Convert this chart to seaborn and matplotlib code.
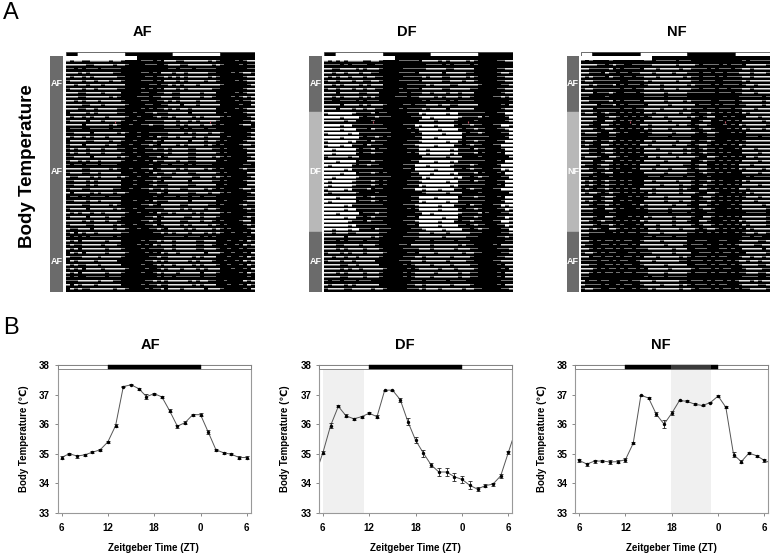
import numpy as np
import pandas as pd
import seaborn as sns
import matplotlib
matplotlib.use('Agg')
import matplotlib.pyplot as plt

W, H = 775, 557

# ---- actogram data: height of the white gap per bin (0-3)
af_first = [2,2,2,2,1,2,2,2,2,2,2,2,2,2,1, 0,0,0,0,1, 1,1,0,1,1,2, 2,2,1,2,2,2,2,2,2,2,2,2,1, 0,0,0,0,1,0,1, 2,2]
af_mid = [1,2,2,2,2,1,2,2,2,2,2,2,2,2,1, 0,0,1,0,0, 1,1,2,1,1,2, 2,2,2,2,2,1,2,2,2,2,2,2,1, 0,1,0,0,0,0,1, 2,2]
af_last = [2,1,2,1,2,2,2,2,2,2,2,2,2,2,1, 0,0,0,0,1, 0,1,1,2,1,2, 2,2,2,2,2,2,2,2,1,2,2,2,1, 0,0,1,0,0,1,0, 2,1]

df_first = [2,2,2,1,2,2,2,2,2,2,1,2,2,2,1, 0,0,0,0,1, 1,1,1,1,1,2, 2,2,2,2,2,1,2,2,2,2,2,2,1, 0,0,0,0,0,1,1, 2,2]
df_mid = [3,3,3,3,3,3,3,3, 1,1,1,1,2,1,1,1, 0,0,0,0,0,1,1,1, 3,3,3,3,3,3,3,3,3,3, 1,1,1,1,2,1,1,0, 0,0,1,1, 3,3]
df_last = [2,2,2,2,2,1,2,2,2,2,2,2,2,2,1, 0,0,0,0,0, 1,1,1,2,2,2, 2,2,2,2,2,2,2,2,2,2,2,1,1, 0,0,0,0,0,1,1, 2,2]

nf_first = [2,2,2,1,1,1,1,2,1,1,0,1,1,1,1,1, 2,2,2,2,2,2,2,2,2,2,2,2, 1,1,1,1,1,1,0,1,1,1,1,1,1, 2,2,2,2,2,2,2]
nf_mid = [2,2,2,1,0,1,2,2,1,0,1,0,1,0,1,0, 2,2,2,2,2,2,2,2,2,2,2,2, 1,0,1,2,2,1,0,1,0,1,0,1,0, 2,2,2,2,2,2,2]
nf_last = [2,2,1,1,1,0,1,1,0,1,0,1,1,0,1,1, 2,2,2,2,2,2,2,2,2,2,2,1, 0,1,1,1,0,1,0,1,1,0,1,0,1, 2,2,2,2,2,1,2]

# days where the whole gap is thinner
af_gain = [0,0,0,-1,0,0,0,0,0,0,0,0,0,0, 0,0,0,0,-1,0,0,0,0,0,0,0,0,-1,0,0,0,0,0,0,0,-1,0,0,0,0,0,0,0,0, 0,-1,0,0,0,0,0,0,0,0,0,-1,0,0,0]
df_gain = [0,0,-1,0,0,0,0,0,0,0,0,-1,0,0, 0,0,-1,0,0,0,0,0,0,0,0,-1,0,0,0,0,0,0,0,0,-1,0,0,0,0,0,0,0,0,0, 0,0,-1,0,0,0,0,0,0,0,0,0,-1,0,0]
nf_gain = [0,-1,0,0,0,0,0,0,0,0,-1,0,0,0, 0,0,0,0,0,0,-1,0,0,0,0,0,0,0,0,0,-1,0,0,0,0,0,0,0,0,-1,0,0,0,0, 0,-1,0,0,0,0,0,0,0,0,0,-1,0,0,0]
# onset of each day, in bins
row_shift = [0,0,1,0,-1,0,0,1,0,0,-1,0,1,0, 0,1,0,-1,0,1,1,0,-1,0,0,1,0,-1,-1,0,1,0,0,-1,1,0,0,-1,0,1,0,-1,0,1, 1,0,0,-1,0,1,0,-1,0,1,0,0,-1,0,1]
# small dips in the gap, where they fall on each day
speck = [0,1,0,0,0,0,0,1,0,0,0,0,1,0,0,0,0,0,0,1,0,0,0,0,0,1,0,0,0,0,0,0,1,0,0,0,1,0,0,0,0,0,1,0,0,0,0,0]
speck_offset = [0,17,5,31,11,42,23,8,36,2,27,14,45,19, 6,33,21,40,10,29,3,47,16,25,38,12,44,7,34,20, 1,30,13,41,24,9,37,4,28,15,46,22,35,18, 43,11,26,2,39,16,31,6,20,45,9,33,24,13,41]

phase_rows = [14, 30, 15]
blank_bins = 18  # recording starts a third of the way into the first row

# ---- light/dark bars of the actograms (hours from left edge)
act_bar_edges = [0, 3, 15, 27, 39, 47.7]

act_titles = ['AF', 'DF', 'NF']
af_phases = ['AF', 'AF', 'AF']
df_phases = ['AF', 'DF', 'AF']
nf_phases = ['AF', 'NF', 'AF']
marks_row = [16, 16]
marks_bin = [12, 36]

# ---- mean body temperature
zt_hours = list(range(25))
zt_ticks = [0, 6, 12, 18, 24]
zt_labels = ['6', '12', '18', '0', '6']
temp_ticks = [33, 34, 35, 36, 37, 38]

af_temp = [34.87,35.0,34.92,34.96,35.05,35.13,35.4,35.95,37.27,37.33,37.2,36.93,37.03,36.92,36.45,35.93,36.05,36.32,36.32,35.73,35.13,35.03,34.98,34.87,34.87]
af_sem = [.05,.03,.05,.04,.03,.04,.03,.05,.02,.02,.03,.08,.03,.03,.05,.05,.04,.03,.04,.07,.03,.04,.04,.04,.04]
df_temp = [35.03,35.95,36.6,36.28,36.18,36.25,36.37,36.25,37.15,37.15,36.83,36.08,35.45,35.02,34.62,34.38,34.38,34.22,34.13,33.93,33.8,33.92,33.97,34.25,35.05]
df_sem = [.05,.08,.03,.05,.03,.03,.04,.05,.02,.02,.07,.12,.1,.12,.07,.13,.12,.13,.12,.13,.07,.05,.05,.06,.05]
nf_temp = [34.77,34.65,34.75,34.75,34.72,34.73,34.8,35.35,36.98,36.88,36.33,36.0,36.37,36.8,36.77,36.67,36.63,36.73,36.95,36.57,34.97,34.73,35.02,34.93,34.77]
nf_sem = [.06,.05,.05,.04,.06,.05,.07,.03,.02,.03,.07,.13,.07,.03,.03,.04,.03,.03,.03,.03,.08,.06,.04,.04,.06]

# where the trace runs off the plot on either side
df_edges_x = [-0.5, 24.5]
df_edges_y = [34.65, 35.45]
nf_edges_x = [24.5]
nf_edges_y = [34.72]

night = (6, 18)
df_shade = (0.05, 5.3)
nf_shade = (11.9, 17.1)

sns.set_style('white')
plt.rcParams['font.family'] = ['Liberation Sans', 'DejaVu Sans']
plt.rcParams['axes.unicode_minus'] = False
plt.rcParams['text.color'] = 'black'
plt.rcParams['xtick.labelcolor'] = 'black'
plt.rcParams['ytick.labelcolor'] = 'black'

fig = plt.figure(figsize=(W / 100, H / 100), dpi=100)


def px_axes(x0, y0, x1, y1):
    return fig.add_axes([x0 / W, 1 - y1 / H, (x1 - x0) / W, (y1 - y0) / H])


def px_text(x, y, s, **kw):
    fig.text(x / W, 1 - y / H, s, ha='center', va='center', **kw)


def actogram_matrix(profiles, gain):
    # each day is 4 pixel rows: the white gap on top, black trace under it
    sub = 4
    rows = []
    idx = 0
    for prof, n in zip(profiles, phase_rows):
        prof = np.array(prof)
        for _ in range(n):
            lev = np.roll(prof, row_shift[idx]) + gain[idx] - np.roll(speck, speck_offset[idx])
            lev = np.clip(lev, 0, 3)
            if idx == 0:
                lev = np.zeros(48, dtype=int)
                lev[:blank_bins] = 4
            cells = np.zeros((sub, 48))
            for c, l in enumerate(lev):
                if l == 1:
                    cells[0, c] = 0.45
                elif l == 2:
                    cells[0, c] = 0.9
                    cells[1, c] = 0.45
                elif l == 3:
                    cells[:2, c] = 1
                    cells[2, c] = 0.5
                elif l == 4:
                    cells[:, c] = 1
            rows.append(cells)
            idx += 1
    return np.vstack(rows)


def actogram(x0, x1, strip0, strip1, title, title_x, profiles, gain, phases, bar_start_dark):
    ax = px_axes(x0, 56, x1, 292)
    sns.heatmap(actogram_matrix(profiles, gain), cmap='gray', vmin=0, vmax=1, cbar=False,
                xticklabels=False, yticklabels=False, ax=ax)
    ax.scatter([b + 0.5 for b in marks_bin], [r * 4 + 1.5 for r in marks_row],
               s=4, color='#c05060', marker='|', linewidths=0.8)

    bar = px_axes(x0 - 0.5, 51.5, x1 - 0.5, 55.5)
    dark = bar_start_dark
    for a, b in zip(act_bar_edges[:-1], act_bar_edges[1:]):
        bar.barh(0, b - a, left=a, height=1, color='black' if dark else 'white',
                 edgecolor='#333333', linewidth=0.5)
        dark = not dark
    bar.set_xlim(0, act_bar_edges[-1])
    bar.set_ylim(-0.5, 0.5)
    bar.axis('off')

    st = px_axes(strip0, 56, strip1, 292)
    top = 0
    for n, name in zip(phase_rows, phases):
        col = '#6b6b6b' if name == 'AF' else '#b8b8b8'
        st.bar(0, n, bottom=top, width=1, color=col, edgecolor=col, linewidth=0.3)
        st.text(0, top + n / 2, name, color='white', ha='center', va='center',
                fontsize=6.5, fontweight='bold')
        top += n
    st.set_xlim(-0.5, 0.5)
    st.set_ylim(sum(phase_rows), 0)
    st.axis('off')

    px_text(title_x, 32, title, fontsize=10.5, fontweight='bold')


actogram(66, 255, 50.5, 63, act_titles[0], 142, [af_first, af_mid, af_last], af_gain, af_phases, True)
actogram(324, 513, 309, 322, act_titles[1], 407, [df_first, df_mid, df_last], df_gain, df_phases, True)
actogram(581, 770, 567, 579, act_titles[2], 677, [nf_first, nf_mid, nf_last], nf_gain, nf_phases, False)


def temp_panel(x0, x1, title, title_x, ylabel_x, temp, sem, edges_x=(), edges_y=(), shade=None, shade_bar=False):
    ax = px_axes(x0, 365, x1, 512.8)
    if shade:
        ax.axvspan(shade[0], shade[1], color='#f0f0f0', lw=0, zorder=0)
    line = pd.DataFrame({'zt': zt_hours + list(edges_x), 'temp': temp + list(edges_y)}).sort_values('zt')
    sns.lineplot(data=line, x='zt', y='temp', color='#555555', linewidth=0.7, sort=False, ax=ax, zorder=2)
    ax.errorbar(zt_hours, temp, yerr=sem, fmt='none', ecolor='#222222', elinewidth=0.6, capsize=1.7,
                capthick=0.6, zorder=3)
    sns.scatterplot(x=zt_hours, y=temp, color='black', s=6, linewidth=0, ax=ax, zorder=4)

    ax.barh(37.93, 25, left=-0.5, height=0.14, color='white', edgecolor='#777777', linewidth=0.6,
            zorder=5, clip_on=False)
    ax.barh(37.93, night[1] - night[0], left=night[0], height=0.14, color='black', edgecolor='black',
            linewidth=0.3, zorder=6, clip_on=False)
    if shade_bar:
        ax.barh(37.93, shade[1] - shade[0], left=shade[0], height=0.14, color='#3a3a3a', linewidth=0,
                zorder=7, clip_on=False)

    ax.set_xlim(-0.5, 24.5)
    ax.set_ylim(33, 38)
    ax.set_xticks(zt_ticks)
    ax.set_xticklabels(zt_labels, fontsize=7, fontweight='bold')
    ax.set_yticks(temp_ticks)
    ax.set_yticklabels([str(t) for t in temp_ticks], fontsize=7, fontweight='bold')
    ax.tick_params(axis='both', length=2, width=0.7, color='#888888', bottom=True, left=True)
    ax.tick_params(axis='x', pad=5.5)
    ax.tick_params(axis='y', pad=3.5)
    ax.set_xlabel('')
    ax.set_ylabel('')
    for s in ax.spines.values():
        s.set_color('#999999')
        s.set_linewidth(0.8)

    px_text(title_x, 345, title, fontsize=10.5, fontweight='bold')
    px_text((x0 + x1) / 2 - 0.5, 548, 'Zeitgeber Time (ZT)', fontsize=7, fontweight='bold')
    px_text(ylabel_x, 439, 'Body Temperature (℃)', fontsize=7, fontweight='bold', rotation=90)


temp_panel(57.7, 250.7, 'AF', 150, 24, af_temp, af_sem)
temp_panel(319, 512.3, 'DF', 405, 285, df_temp, df_sem, df_edges_x, df_edges_y, df_shade)
temp_panel(575.3, 768.3, 'NF', 660.5, 542, nf_temp, nf_sem, nf_edges_x, nf_edges_y, nf_shade, True)

px_text(28, 166, 'Body Temperature', fontsize=13.5, fontweight='bold', rotation=90)
px_text(11, 13, 'A', fontsize=17)
px_text(11, 328, 'B', fontsize=17)

fig.savefig('out.png', dpi=100)
